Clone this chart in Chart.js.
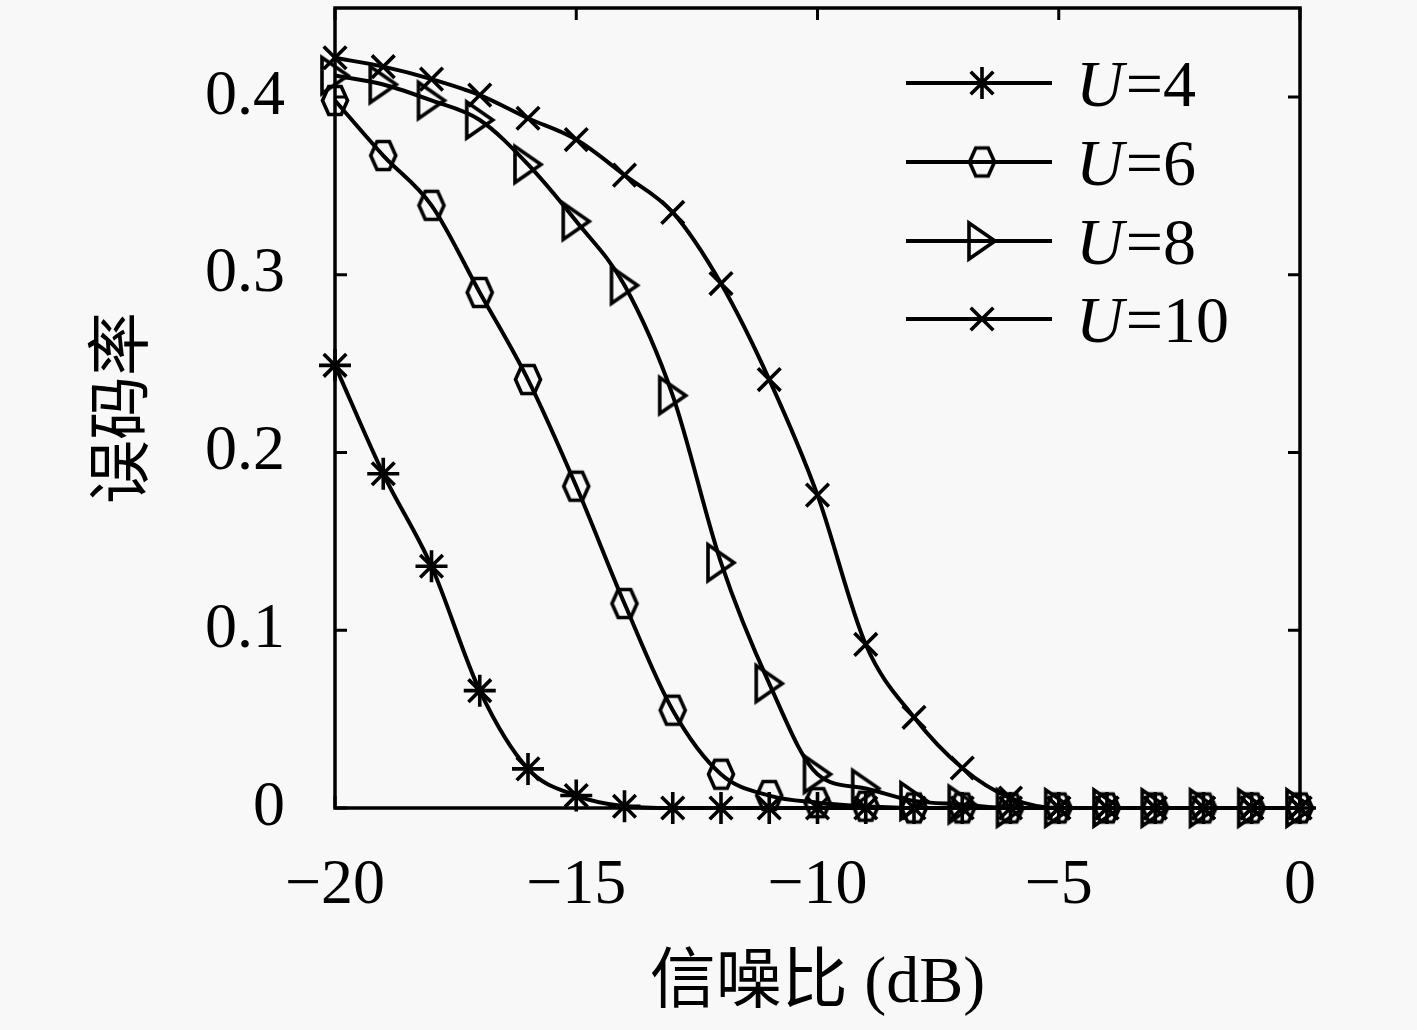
<!DOCTYPE html>
<html><head><meta charset="utf-8">
<script src="https://cdn.jsdelivr.net/npm/chart.js@4"></script>
<style>html,body{margin:0;padding:0;background:#f8f8f8}canvas{display:block}</style>
</head><body>
<canvas id="c" width="1417" height="1030"></canvas>
<script>
// ---- data ----
const snr = [-20,-19,-18,-17,-16,-15,-14,-13,-12,-11,-10,-9,-8,-7,-6,-5,-4,-3,-2,-1,0];
const berU4  = [0.249,0.188,0.136,0.066,0.022,0.007,0.001,0,0,0,0,0,0,0,0,0,0,0,0,0,0];
const berU6  = [0.398,0.367,0.339,0.290,0.241,0.181,0.115,0.055,0.019,0.007,0.003,0.001,0,0,0,0,0,0,0,0,0];
const berU8  = [0.412,0.407,0.398,0.387,0.362,0.330,0.294,0.232,0.138,0.070,0.019,0.011,0.004,0.002,0,0,0,0,0,0,0];
const berU10 = [0.422,0.417,0.410,0.401,0.388,0.376,0.356,0.335,0.295,0.241,0.176,0.092,0.051,0.0225,0.0056,0,0,0,0,0,0];
const seriesLabels = ['4','6','8','10'];
const xTicks = [-20,-15,-10,-5,0];
const yTicks = [0,0.1,0.2,0.3,0.4];
const xTitle = '信噪比 (dB)';
const yTitle = '误码率';

// ---- marker images ----
function hexImg(w,h,lw){
  const c=document.createElement('canvas');c.width=w+lw*2;c.height=h+lw*2;
  const g=c.getContext('2d');const cx=c.width/2,cy=c.height/2;
  g.beginPath();
  g.moveTo(cx-w/2,cy);g.lineTo(cx-w/4,cy-h/2);g.lineTo(cx+w/4,cy-h/2);
  g.lineTo(cx+w/2,cy);g.lineTo(cx+w/4,cy+h/2);g.lineTo(cx-w/4,cy+h/2);g.closePath();
  g.lineWidth=lw;g.strokeStyle='#000';g.lineJoin='miter';g.stroke();return c;
}
function triImg(w,h,lw){
  const c=document.createElement('canvas');c.width=w+lw*3;c.height=h+lw*3;
  const g=c.getContext('2d');const cx=c.width/2,cy=c.height/2;
  g.beginPath();
  g.moveTo(cx-w/2,cy-h/2);g.lineTo(cx+w/2,cy);g.lineTo(cx-w/2,cy+h/2);g.closePath();
  g.lineWidth=lw;g.strokeStyle='#000';g.lineJoin='miter';g.stroke();return c;
}
const hex = hexImg(25,28,3.6);
const tri = triImg(26,36,3.6);

const styles = [
  {pointStyle:'star', radius:16},
  {pointStyle:hex, radius:14},
  {pointStyle:tri, radius:16},
  {pointStyle:'crossRot', radius:16}
];
const allData = [berU4,berU6,berU8,berU10];

const datasets = allData.map((arr,i)=>({
  label:'U='+seriesLabels[i],
  data: snr.map((x,j)=>({x:x,y:arr[j]})),
  borderColor:'#000', backgroundColor:'rgba(0,0,0,0)',
  pointBorderColor:'#000', pointBackgroundColor:'rgba(0,0,0,0)',
  borderWidth:4, pointBorderWidth:3.6,
  pointStyle:styles[i].pointStyle, pointRadius:styles[i].radius, pointHoverRadius:styles[i].radius,
  cubicInterpolationMode:'monotone', clip:false, order:4-i
}));

const serif = '"Liberation Serif", "DejaVu Serif", serif';
const cjk = '"Liberation Serif", "Noto Sans CJK SC", serif';

const boxPlugin = {
  id:'box',
  beforeDraw(chart){
    const ctx=chart.ctx;ctx.save();ctx.fillStyle='#f8f8f8';ctx.fillRect(0,0,chart.width,chart.height);ctx.restore();
  },
  afterDraw(chart){
    const {ctx, chartArea:a, scales:{x,y}} = chart;
    ctx.save();
    ctx.strokeStyle='#000';ctx.lineWidth=3.5;ctx.lineCap='square';
    ctx.strokeRect(a.left,a.top,a.right-a.left,a.bottom-a.top);
    ctx.lineWidth=3;ctx.lineCap='butt';
    const tl=12;
    ctx.beginPath();
    xTicks.forEach(v=>{const px=x.getPixelForValue(v);
      ctx.moveTo(px,a.bottom);ctx.lineTo(px,a.bottom-tl);
      ctx.moveTo(px,a.top);ctx.lineTo(px,a.top+tl);});
    yTicks.forEach(v=>{const py=y.getPixelForValue(v);
      ctx.moveTo(a.left,py);ctx.lineTo(a.left+tl,py);
      ctx.moveTo(a.right,py);ctx.lineTo(a.right-tl,py);});
    ctx.stroke();
    // legend
    const rows=[83,162,241,319];
    chart.data.datasets.forEach((ds,i)=>{
      const yy=rows[i];
      ctx.strokeStyle='#000';ctx.lineWidth=4;
      ctx.beginPath();ctx.moveTo(906,yy);ctx.lineTo(1052,yy);ctx.stroke();
      ctx.fillStyle='rgba(0,0,0,0)';ctx.strokeStyle='#000';ctx.lineWidth=3.6;
      Chart.helpers.drawPoint(ctx,{pointStyle:ds.pointStyle,radius:ds.pointRadius,rotation:0,borderWidth:3.6},982,yy);
      ctx.fillStyle='#000';ctx.textBaseline='alphabetic';ctx.textAlign='left';
      ctx.font='italic 66px '+serif;
      ctx.fillText('U',1076,yy+23);
      const w=ctx.measureText('U').width;
      ctx.font='66px '+serif;
      ctx.fillText('='+seriesLabels[i],1076+w+2,yy+23);
    });
    ctx.restore();
  }
};

new Chart(document.getElementById('c'),{
  type:'line',
  data:{datasets},
  options:{
    responsive:false, devicePixelRatio:1, animation:false,
    layout:{autoPadding:false,padding:{left:0,right:117,top:8,bottom:0}},
    plugins:{legend:{display:false},tooltip:{enabled:false}},
    elements:{line:{borderWidth:4}},
    scales:{
      x:{type:'linear',min:-20,max:0,
        grid:{display:false,drawTicks:false,tickLength:0},border:{display:false},
        afterBuildTicks(s){s.ticks=xTicks.map(v=>({value:v}));},
        ticks:{color:'#000',font:{family:serif,size:64},padding:40,maxRotation:0,autoSkip:false,
          callback:v=>v<0?'\u2212'+Math.abs(v):String(v)},
        title:{display:true,text:xTitle,color:'#000',font:{family:cjk,size:66},padding:{top:0,bottom:6}},
        afterFit(s){s.height=222;s.paddingLeft=0;s.paddingRight=0;}
      },
      y:{type:'linear',min:0,max:0.45,
        grid:{display:false,drawTicks:false,tickLength:0},border:{display:false},
        afterBuildTicks(s){s.ticks=yTicks.map(v=>({value:v}));},
        ticks:{color:'#000',font:{family:serif,size:64},padding:50,autoSkip:false,
          callback:v=>v===0?'0':v.toFixed(1)},
        title:{display:true,text:yTitle,color:'#000',font:{family:cjk,size:64},padding:{top:87,bottom:0}},
        afterFit(s){s.width=335;s.paddingTop=0;s.paddingBottom=0;}
      }
    }
  },
  plugins:[boxPlugin]
});
</script></body></html>
